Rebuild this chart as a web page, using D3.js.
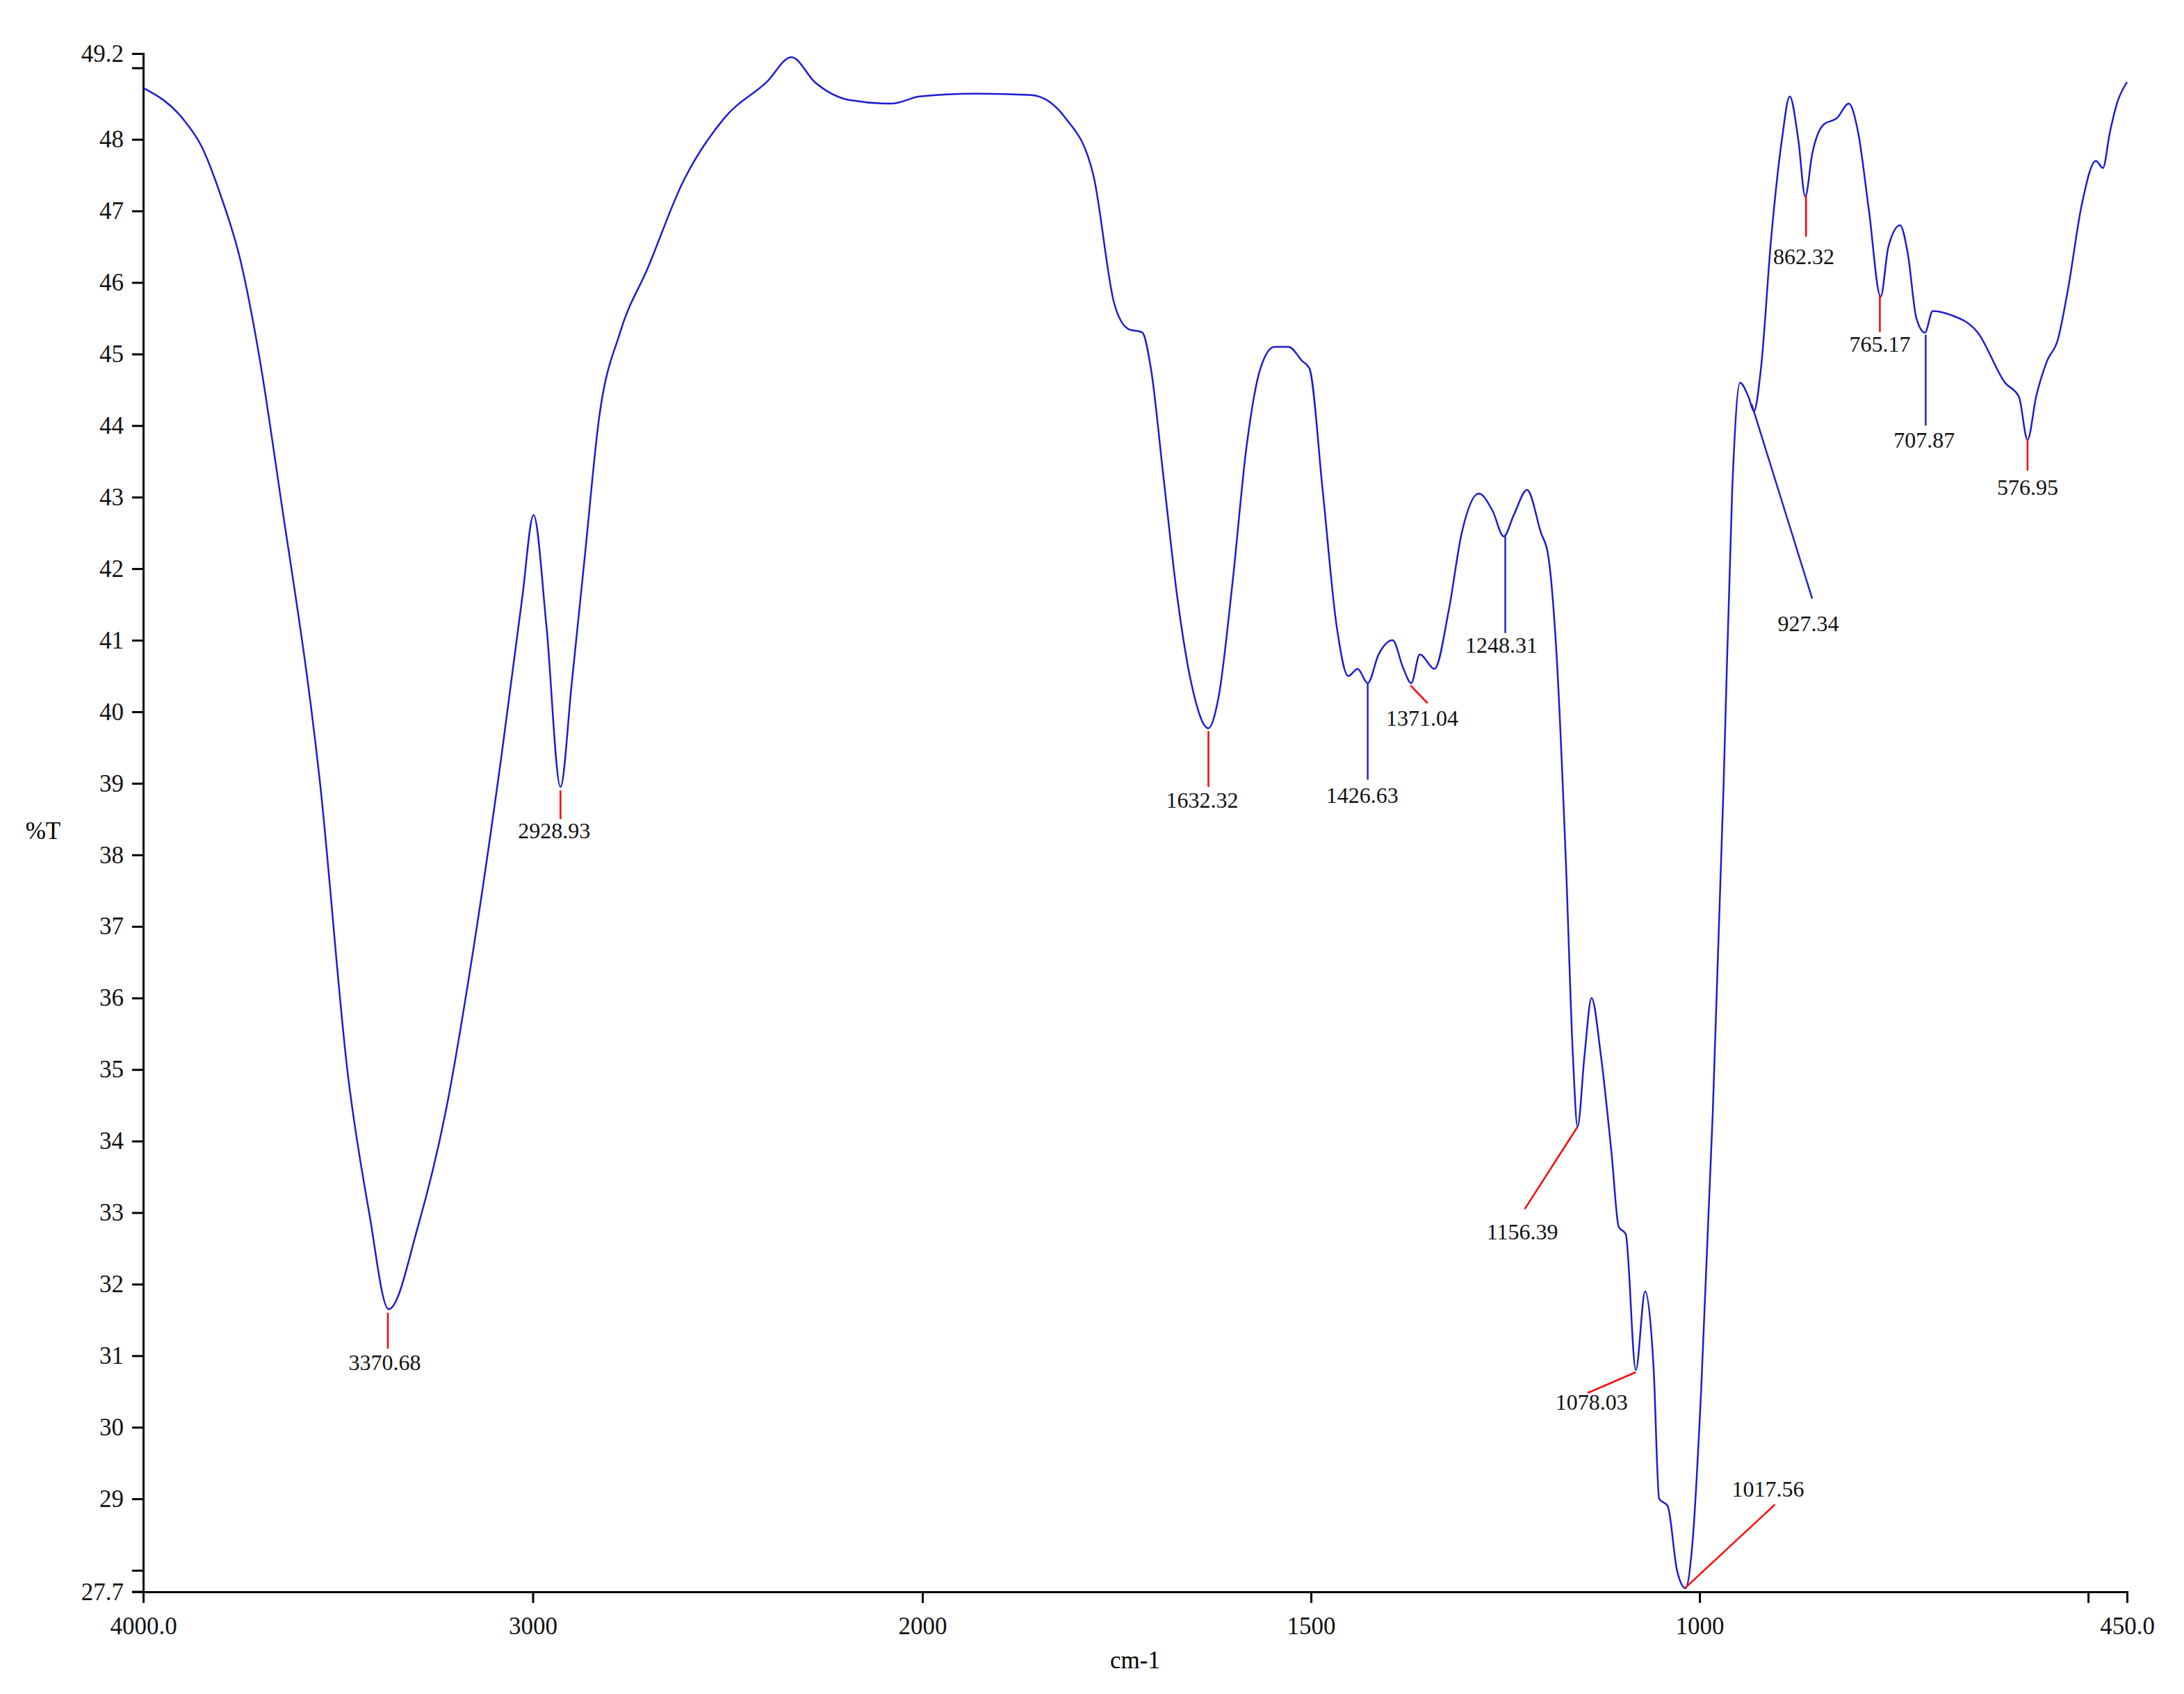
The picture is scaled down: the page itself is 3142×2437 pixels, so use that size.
<!DOCTYPE html>
<html><head><meta charset="utf-8">
<script src="https://cdn.jsdelivr.net/npm/d3@7"></script>
<style>body{margin:0;background:#fff}text{font-family:"Liberation Serif","DejaVu Serif",serif}</style>
</head><body><div id="chart"></div>
<script>
const W = 3142, H = 2437;
const wavenumber = [4000,3900,3850,3800,3750,3700,3650,3546,3474,3420,3370,3295,3224,3152,3080,3027,2998,2965,2929,2900,2866,2830,2776,2705,2615,2508,2400,2336,2276,2186,2079,2007,1932,1860,1816,1780,1753,1735,1717,1706,1690,1672,1654,1632,1619,1601,1583,1565,1547,1529,1511,1502,1485,1467,1452,1440,1427,1413,1395,1381,1371,1360,1341,1323,1306,1284,1266,1252,1239,1222,1204,1195,1184,1172,1163,1157,1148,1139,1127,1113,1104,1095,1082,1070,1059,1052,1041,1029,1018,1009,998,983,969,958,948,937,930,921,908,894,884,873,864,855,841,823,808,796,782,767,757,742,732,721,710,700,678,642,607,589,578,567,553,539,526,508,490,481,472,463,450];
const transmittance = [48.72,48.3,47.9,47.2,46.3,44.9,43.1,39.0,34.9,33.0,31.65,32.8,34.4,36.7,39.4,41.6,42.75,41.2,38.95,40.4,42.2,44.1,45.3,46.2,47.4,48.3,48.8,49.15,48.8,48.55,48.5,48.6,48.64,48.62,48.3,47.5,45.7,45.35,45.3,44.8,43.3,41.6,40.4,39.77,40.2,41.8,43.7,44.8,45.1,45.1,44.9,44.8,43.1,41.2,40.5,40.6,40.4,40.8,41.0,40.6,40.4,40.8,40.6,41.4,42.5,43.05,42.8,42.45,42.75,43.1,42.5,42.2,40.8,37.9,35.2,34.2,35.2,36.0,35.2,33.8,32.8,32.7,30.8,31.9,30.8,29.0,28.9,28.0,27.75,28.4,30.5,34.4,39.0,43.1,44.6,44.4,44.2,44.8,46.6,48.0,48.6,48.0,47.2,47.8,48.2,48.3,48.5,48.1,47.0,45.8,46.5,46.8,46.4,45.5,45.3,45.6,45.55,45.3,44.6,44.4,43.8,44.4,44.9,45.2,45.9,47.1,47.7,47.6,48.1,48.5,48.8];

const xTicks = [4000,3000,2000,1500,1000,500,450];
const xTickLabels = {4000:"4000.0",3000:"3000",2000:"2000",1500:"1500",1000:"1000",450:"450.0"};
const yTicks = [27.7,28,29,30,31,32,33,34,35,36,37,38,39,40,41,42,43,44,45,46,47,48,49,49.2];
const yTickHidden = [28,49];

// label, peak start, leader end, text position, leader colour
const peakLabels = ["3370.68","2928.93","1632.32","1426.63","1371.04","1248.31","1156.39","1078.03","1017.56","927.34","862.32","765.17","707.87","576.95"];
const peakStart = [[3372,31.6],[2929,38.9],[1632,39.73],[1427,40.4],[1372,40.37],[1250,42.45],[1157,34.2],[1082,30.77],[1019,27.75],[933,44.3],[863,47.22],[768,45.82],[709,45.27],[578,43.81]];
const peakEnd = [[3372,31.1],[2929,38.5],[1632,38.95],[1427,39.05],[1350,40.12],[1250,41.1],[1225,33.05],[1144,30.48],[903,28.92],[855,41.58],[863,46.64],[768,45.31],[709,44.0],[578,43.37]];
const peakText = [[3380,30.87],[2945,38.3],[1640,38.73],[1434,38.8],[1357,39.88],[1255,40.9],[1228,32.7],[1139,30.32],[912,29.1],[860,41.2],[866,46.33],[768,45.1],[711,43.76],[578,43.1]];
const peakColor = ["red","red","red","#2222cc","red","#2222cc","red","red","red","#2222cc","red","red","#2222cc","red"];

const svg = d3.select('#chart').append('svg').attr('width', W).attr('height', H);
const x = d3.scaleLinear().domain([4000, 2000, 450]).range([206, 1327, 3060]);
const y = d3.scaleLinear().domain([27.7, 49.2]).range([2290, 77]);

// axes
const yAxis = svg.append('g').attr('transform', 'translate(206,0)')
  .call(d3.axisLeft(y).tickValues(yTicks).tickSize(16)
    .tickFormat(d => yTickHidden.includes(d) ? '' : (d % 1 ? d3.format('.1f')(d) : d)));
const xAxis = svg.append('g').attr('transform', 'translate(0,2290)')
  .call(d3.axisBottom(x).tickValues(xTicks).tickSize(16)
    .tickFormat(d => xTickLabels[d] || ''));
[xAxis, yAxis].forEach(a => {
  a.select('.domain').attr('stroke', '#000').attr('stroke-width', 3);
  a.selectAll('.tick line').attr('stroke', '#000').attr('stroke-width', 3);
  a.selectAll('.tick text').attr('fill', '#111').style('font-size', '35px')
    .style('font-family', '"Liberation Serif",serif');
});
yAxis.selectAll('.tick text').attr('x', -28);
xAxis.selectAll('.tick text').attr('y', 36);
svg.append('line').attr('x1', 190).attr('x2', 206).attr('y1', 2290).attr('y2', 2290).attr('stroke', '#000').attr('stroke-width', 3);

svg.append('text').attr('x', 62).attr('y', 1207).attr('text-anchor', 'middle')
  .style('font-size', '35px').text('%T');
svg.append('text').attr('x', 1633).attr('y', 2400).attr('text-anchor', 'middle')
  .style('font-size', '35px').text('cm-1');

// spectrum
const pts = wavenumber.map((w, i) => [w, transmittance[i]]);
svg.append('path').datum(pts)
  .attr('fill', 'none').attr('stroke', '#1c1cd0').attr('stroke-width', 2.5)
  .attr('d', d3.line().x(d => x(d[0])).y(d => y(d[1])).curve(d3.curveMonotoneX));

// peak annotations
const ann = svg.append('g');
peakLabels.forEach((lab, i) => {
  ann.append('line')
    .attr('x1', x(peakStart[i][0])).attr('y1', y(peakStart[i][1]))
    .attr('x2', x(peakEnd[i][0])).attr('y2', y(peakEnd[i][1]))
    .attr('stroke', peakColor[i]).attr('stroke-width', 2.5);
  ann.append('text')
    .attr('x', x(peakText[i][0])).attr('y', y(peakText[i][1]))
    .attr('text-anchor', 'middle').attr('dominant-baseline', 'middle')
    .style('font-size', '32px').attr('fill', '#111').text(lab);
});
</script></body></html>
